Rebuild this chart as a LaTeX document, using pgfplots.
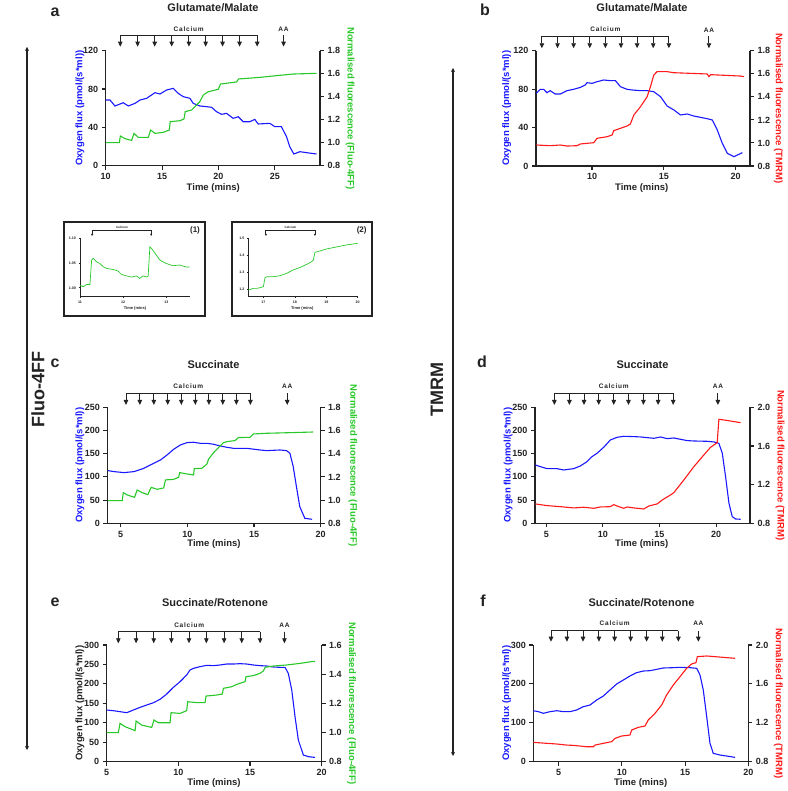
\documentclass[border=0pt]{standalone}
\usepackage{fontspec}
\setmainfont{Liberation Sans}
\newfontfamily\lsfont[LetterSpace=12]{Liberation Sans}
\usepackage{pgfplots}
\pgfplotsset{compat=1.18}
\usetikzlibrary{arrows.meta}
\definecolor{oxblue}{RGB}{25,25,255}
\definecolor{flgreen}{RGB}{40,200,40}
\definecolor{tmred}{RGB}{255,25,25}
\definecolor{axgray}{RGB}{35,35,35}

\tikzset{
  annot/.style={line width=0.9pt, axgray},
  arr/.style={-{Triangle[length=5pt,width=4.5pt]}},
  sarr/.style={-{Triangle[length=2.2pt,width=2pt]}},
  calfont/.style={font=\lsfont\bfseries\fontsize{6.5}{7}\selectfont, axgray, inner sep=0pt},
  icalfont/.style={font=\bfseries\fontsize{3}{3.5}\selectfont, axgray, inner sep=0pt},
  ttl/.style={font=\bfseries\fontsize{11}{13}\selectfont, axgray},
  lbl/.style={font=\bfseries\fontsize{9.5}{11}\selectfont, axgray},
  let/.style={font=\bfseries\fontsize{16}{18}\selectfont, anchor=base, axgray},
}
\pgfplotsset{
  panel/.style={scale only axis, anchor=south west, clip=false,
    axis line style={line width=1.3pt, axgray},
    tick style={line width=1.1pt, axgray},
    tick align=outside, major tick length=4pt,
    tick label style={font=\bfseries\fontsize{9}{10}\selectfont, axgray},
    /pgf/number format/assume math mode=true,
    enlargelimits=false},
  leftax/.style={panel, axis x line*=bottom, axis y line*=left,
    y tick label style={/pgf/number format/fixed}},
  rightax/.style={panel, axis x line=none, axis y line*=right,
    y tick label style={/pgf/number format/.cd, fixed, fixed zerofill, precision=1}},
  insetax/.style={scale only axis, anchor=south west, clip=false,
    axis x line*=bottom, axis y line*=left,
    axis line style={line width=0.7pt, axgray},
    tick style={line width=0.6pt, axgray},
    tick align=outside, major tick length=1.5pt,
    tick label style={font=\bfseries\fontsize{3.6}{4}\selectfont, axgray},
    xticklabel style={yshift=1pt},
    yticklabel style={xshift=1pt},
    /pgf/number format/assume math mode=true,
    enlargelimits=false},
}
% #1 arrow style, #2 list, #3 first, #4 last, #5 label x, #6 bracket rel y, #7 tip rel y, #8 label rel y, #9 font style
\newcommand{\calcium}[9]{%
  \draw[annot] ({axis cs:#3,0}|-{rel axis cs:0,#6}) -- ({axis cs:#4,0}|-{rel axis cs:0,#6});
  \pgfplotsinvokeforeach{#2}{\draw[annot,#1] ({axis cs:##1,0}|-{rel axis cs:0,#6}) -- ({axis cs:##1,0}|-{rel axis cs:0,#7});}
  \node[#9] at ({axis cs:#5,0}|-{rel axis cs:0,#8}) {Calcium};
}
\newcommand{\aamark}[4]{%
  \draw[annot,arr] ({axis cs:#1,0}|-{rel axis cs:0,#2}) -- ({axis cs:#1,0}|-{rel axis cs:0,#3});
  \node[calfont] at ({axis cs:#1,0}|-{rel axis cs:0,#4}) {AA};
}

\begin{document}
\begin{tikzpicture}
\useasboundingbox (0,0) rectangle (787pt,791pt);

% ================= Panel a =================
\begin{axis}[leftax, at={(105.7pt,625.3pt)}, width=214.3pt, height=115pt,
  xmin=10, xmax=29, ymin=0, ymax=120, xtick={10,15,20,25}, ytick={0,40,80,120}]
\addplot[oxblue, line width=1.1pt] coordinates {
(10.0,68.5)(10.38,68.5)(10.82,62.3)(11.56,65.7)(12.0,62.3)(12.59,65.0)(13.04,68.5)(13.63,70.3)(14.37,76.2)(14.81,74.8)(15.40,79.0)(15.99,80.7)(16.43,75.5)(16.88,72.0)(17.47,70.3)(17.76,65.0)(18.35,62.3)(18.94,61.6)(19.39,60.9)(19.83,56.3)(20.27,53.6)(20.71,54.6)(21.30,49.4)(21.75,51.1)(22.19,45.9)(22.78,45.9)(23.22,48.3)(23.52,43.5)(24.55,44.2)(24.99,40.7)(25.58,40.7)(26.03,30.3)(26.32,19.8)(26.68,12.2)(27.21,14.6)(27.80,13.6)(28.69,12.2)};
\calcium{arr}{11.29,12.83,14.34,15.85,17.38,18.86,20.36,21.87,23.43}{11.29}{23.43}{17.36}{1.1365}{1.035}{1.186}{calfont}
\aamark{25.77}{1.1365}{1.035}{1.186}
\end{axis}
\begin{axis}[rightax, at={(105.7pt,625.3pt)}, width=214.3pt, height=115pt,
  xmin=10, xmax=29, ymin=0.8, ymax=1.8, ytick={0.8,1,1.2,1.4,1.6,1.8}]
\addplot[flgreen, line width=1.1pt] coordinates {
(10,1.0)(11.21,1.0)(11.30,1.058)(11.71,1.035)(12.30,1.020)(12.51,1.081)(12.89,1.046)(13.78,1.046)(13.98,1.110)(14.37,1.081)(15.10,1.090)(15.64,1.110)(15.72,1.183)(16.58,1.191)(16.94,1.206)(17.05,1.270)(17.61,1.284)(18.35,1.357)(18.65,1.414)(19.09,1.443)(19.98,1.464)(20.18,1.510)(21.60,1.528)(21.78,1.554)(23.67,1.568)(25.14,1.583)(26.62,1.597)(28.69,1.603)};
\end{axis}

% ================= Panel b =================
\begin{axis}[leftax, at={(536pt,625pt)}, width=214pt, height=115.3pt,
  xmin=6.1, xmax=21, ymin=0, ymax=120, xtick={10,15,20}, ytick={0,40,80,120}]
\addplot[oxblue, line width=1.1pt] coordinates {
(6.12,75.6)(6.40,79.8)(6.63,79.8)(6.86,76.3)(7.09,78.4)(7.44,74.9)(7.79,74.9)(8.26,78.4)(8.72,79.8)(9.19,81.8)(9.53,84.3)(9.65,86.7)(10.0,86.0)(10.35,87.7)(10.81,89.5)(11.28,88.8)(11.63,88.8)(11.98,82.5)(12.44,79.8)(12.79,79.1)(13.37,78.4)(13.84,78.4)(14.30,77.3)(14.77,72.1)(15.23,62.4)(15.70,58.3)(16.16,53.1)(16.63,54.1)(17.09,52.0)(17.56,50.6)(18.02,49.2)(18.37,47.9)(18.72,37.5)(19.07,23.6)(19.42,13.2)(19.88,9.7)(20.12,11.4)(20.47,13.9)};
\calcium{arr}{6.51,7.60,8.72,9.84,10.93,12.02,13.14,14.26,15.35}{6.51}{15.35}{10.93}{1.1275}{1.021}{1.186}{calfont}
\aamark{18.14}{1.1275}{1.021}{1.173}
\end{axis}
\begin{axis}[rightax, at={(536pt,625pt)}, width=214pt, height=115.3pt,
  xmin=6.1, xmax=21, ymin=0.8, ymax=1.8, ytick={0.8,1,1.2,1.4,1.6,1.8}]
\addplot[tmred, line width=1.1pt] coordinates {
(6.12,0.982)(7.09,0.976)(7.79,0.982)(8.26,0.973)(8.95,0.976)(9.19,0.991)(10.12,1.002)(10.35,1.040)(11.05,1.054)(11.40,1.069)(11.51,1.106)(11.98,1.127)(12.44,1.147)(12.67,1.164)(12.91,1.242)(13.37,1.314)(13.84,1.401)(14.07,1.488)(14.30,1.589)(14.53,1.618)(15.23,1.618)(15.70,1.609)(18.02,1.598)(18.14,1.575)(18.26,1.592)(20.35,1.580)(20.58,1.575)};
\end{axis}

% ================= Inset 1 =================
\begin{axis}[insetax, at={(80pt,494.3pt)}, width=110pt, height=58.4pt,
  xmin=11, xmax=13.55, ymin=0.982, ymax=1.10, xtick={11,12,13}, ytick={1,1.05,1.1},
  y tick label style={/pgf/number format/.cd, fixed, fixed zerofill, precision=2}]
\addplot[flgreen, line width=0.7pt] coordinates {
(11.0,1.0054)(11.077,1.002)(11.154,1.0068)(11.23,1.0068)(11.27,1.056)(11.31,1.0595)(11.38,1.0527)(11.46,1.049)(11.54,1.0426)(11.62,1.039)(11.77,1.037)(11.88,1.034)(11.96,1.027)(12.08,1.024)(12.19,1.0216)(12.31,1.024)(12.38,1.019)(12.46,1.024)(12.54,1.0216)(12.58,1.024)(12.62,1.083)(12.69,1.076)(12.77,1.066)(12.85,1.056)(13.0,1.049)(13.15,1.0446)(13.31,1.046)(13.46,1.042)(13.54,1.042)};
\calcium{sarr}{11.28,12.65}{11.28}{12.65}{11.97}{1.142}{1.039}{1.18}{icalfont}
\end{axis}

% ================= Inset 2 =================
\begin{axis}[insetax, at={(248.3pt,494.3pt)}, width=109.4pt, height=58.4pt,
  xmin=16.52, xmax=20, ymin=1.155, ymax=1.5, xtick={17,18,19,20}, ytick={1.2,1.3,1.4,1.5},
  y tick label style={/pgf/number format/.cd, fixed, fixed zerofill, precision=1}]
\addplot[flgreen, line width=0.7pt] coordinates {
(16.52,1.194)(16.68,1.204)(16.79,1.204)(16.89,1.208)(17.0,1.214)(17.05,1.267)(17.11,1.273)(17.32,1.273)(17.53,1.279)(17.74,1.293)(17.95,1.313)(18.17,1.328)(18.38,1.346)(18.54,1.362)(18.59,1.372)(18.64,1.417)(18.80,1.425)(19.01,1.437)(19.33,1.449)(19.65,1.461)(20.0,1.470)};
\calcium{sarr}{17.08,18.64}{17.08}{18.64}{17.86}{1.142}{1.039}{1.18}{icalfont}
\end{axis}

% ================= Panel c =================
\begin{axis}[leftax, at={(107.3pt,267.7pt)}, width=213.4pt, height=116pt,
  xmin=4, xmax=20, ymin=0, ymax=250, xtick={5,10,15,20}, ytick={0,50,100,150,200,250}]
\addplot[oxblue, line width=1.1pt] coordinates {
(4.05,113.5)(4.50,111.4)(5.25,109.2)(6.0,111.4)(6.74,118.5)(7.24,125.7)(7.99,136.5)(8.48,147.3)(8.98,159.5)(9.48,168.8)(9.98,173.9)(10.47,174.6)(10.97,172.4)(11.47,172.4)(11.97,170.3)(12.46,166.7)(12.96,163.8)(13.46,161.6)(14.45,161.6)(15.45,158.0)(15.95,156.6)(16.94,158.0)(17.44,156.6)(17.69,150.9)(17.94,122.1)(18.18,79.0)(18.43,35.9)(18.81,10.8)(19.35,8.6)};
\calcium{arr}{5.40,6.44,7.49,8.53,9.55,10.60,11.62,12.66,13.68,14.73}{5.40}{14.73}{10.07}{1.1207}{1.020}{1.178}{calfont}
\aamark{17.49}{1.1207}{1.020}{1.178}
\end{axis}
\begin{axis}[rightax, at={(107.3pt,267.7pt)}, width=213.4pt, height=116pt,
  xmin=4, xmax=20, ymin=0.8, ymax=1.8, ytick={0.8,1,1.2,1.4,1.6,1.8}]
\addplot[flgreen, line width=1.1pt] coordinates {
(4.05,0.995)(5.12,0.995)(5.20,1.064)(5.50,1.044)(6.04,1.024)(6.24,1.087)(6.62,1.064)(7.04,1.047)(7.29,1.110)(7.74,1.093)(8.23,1.105)(8.36,1.174)(8.98,1.179)(9.35,1.197)(9.43,1.237)(9.98,1.225)(10.47,1.217)(10.52,1.271)(11.09,1.274)(11.47,1.311)(11.59,1.352)(11.97,1.409)(12.46,1.467)(12.71,1.495)(12.96,1.504)(13.58,1.513)(13.83,1.539)(14.70,1.541)(14.95,1.570)(15.95,1.576)(17.94,1.582)(19.43,1.587)};
\end{axis}

% ================= Panel d =================
\begin{axis}[leftax, at={(535pt,267.7pt)}, width=215pt, height=116pt,
  xmin=4, xmax=23, ymin=0, ymax=250, xtick={5,10,15,20}, ytick={0,50,100,150,200,250}]
\addplot[oxblue, line width=1.1pt] coordinates {
(4.03,125.7)(4.47,122.1)(5.06,117.8)(5.94,117.8)(6.53,114.9)(7.42,117.8)(8.01,123.6)(8.60,132.9)(9.04,143.7)(9.48,150.9)(10.07,163.8)(10.66,179.6)(11.25,185.3)(11.84,187.5)(12.73,186.8)(13.32,186.1)(13.91,184.6)(14.50,183.2)(15.09,186.0)(15.68,182.5)(16.27,183.9)(16.86,181.0)(17.45,178.2)(18.04,177.4)(19.22,176.7)(19.81,175.3)(20.25,172.4)(20.55,150.9)(20.84,100.6)(21.14,43.1)(21.43,14.4)(21.73,9.3)(22.17,8.6)};
\calcium{arr}{5.71,7.04,8.33,9.63,10.96,12.26,13.58,14.88,16.21}{5.71}{16.21}{10.96}{1.1207}{1.020}{1.178}{calfont}
\aamark{20.16}{1.1207}{1.020}{1.178}
\end{axis}
\begin{axis}[rightax, at={(535pt,267.7pt)}, width=215pt, height=116pt,
  xmin=4, xmax=23, ymin=0.8, ymax=2.0, ytick={0.8,1.2,1.6,2.0}]
\addplot[tmred, line width=1.1pt] coordinates {
(4.03,1.0)(5.06,0.983)(6.24,0.972)(7.42,0.959)(8.30,0.966)(9.19,0.955)(9.78,0.969)(10.66,0.972)(10.96,0.993)(11.25,0.979)(11.84,0.955)(12.14,0.969)(12.73,0.959)(13.61,0.948)(14.06,0.979)(14.79,1.0)(15.24,1.041)(15.97,1.093)(16.27,1.117)(17.15,1.248)(18.04,1.386)(18.92,1.507)(19.51,1.586)(20.10,1.634)(20.25,1.876)(20.69,1.869)(22.17,1.841)};
\end{axis}

% ================= Panel e =================
\begin{axis}[leftax, at={(106.7pt,29.3pt)}, width=215pt, height=116.7pt,
  xmin=5, xmax=20, ymin=0, ymax=300, xtick={5,10,15,20}, ytick={0,50,100,150,200,250,300}]
\addplot[oxblue, line width=1.1pt] coordinates {
(5.0,132.9)(5.47,131.1)(5.93,128.6)(6.40,126.0)(6.86,132.9)(7.33,139.7)(7.79,145.7)(8.26,151.7)(8.72,160.3)(9.19,174.0)(9.65,191.1)(10.12,205.7)(10.58,222.9)(10.81,235.7)(11.05,240.0)(11.51,244.3)(11.98,247.7)(12.44,246.9)(12.91,248.6)(13.37,251.1)(13.84,251.1)(14.30,252.0)(14.77,251.1)(15.23,248.6)(15.70,246.9)(16.16,246.0)(16.63,243.4)(17.09,242.6)(17.44,242.6)(17.67,227.1)(17.91,184.3)(18.14,115.7)(18.37,55.7)(18.72,17.1)(19.07,12.9)(19.53,11.1)};
\calcium{arr}{5.81,7.05,8.28,9.51,10.74,11.95,13.19,14.42,15.70}{5.81}{15.70}{10.76}{1.114}{1.0146}{1.171}{calfont}
\aamark{17.40}{1.114}{1.0146}{1.171}
\end{axis}
\begin{axis}[rightax, at={(106.7pt,29.3pt)}, width=215pt, height=116.7pt,
  xmin=5, xmax=20, ymin=0.8, ymax=1.6, ytick={0.8,1,1.2,1.4,1.6}]
\addplot[flgreen, line width=1.1pt] coordinates {
(5.0,0.999)(5.81,0.999)(5.93,1.063)(6.28,1.040)(6.98,1.013)(7.05,1.079)(7.44,1.051)(8.14,1.035)(8.30,1.086)(8.60,1.067)(9.42,1.067)(9.49,1.136)(10.12,1.131)(10.58,1.150)(10.65,1.211)(11.28,1.205)(11.86,1.205)(11.93,1.250)(12.67,1.257)(13.07,1.264)(13.14,1.303)(13.72,1.314)(14.07,1.330)(14.65,1.349)(14.72,1.383)(15.23,1.390)(15.70,1.406)(15.93,1.422)(16.05,1.447)(16.63,1.456)(17.56,1.463)(18.49,1.474)(19.42,1.488)(19.53,1.486)};
\end{axis}

% ================= Panel f =================
\begin{axis}[leftax, at={(533.3pt,29.3pt)}, width=215pt, height=116.7pt,
  xmin=3, xmax=20, ymin=0, ymax=300, xtick={5,10,15,20}, ytick={0,100,200,300}]
\addplot[oxblue, line width=1.1pt] coordinates {
(3.0,131.1)(3.40,128.6)(3.79,124.3)(4.32,128.6)(4.85,131.1)(5.37,128.6)(5.90,128.6)(6.43,132.9)(6.95,141.4)(7.48,145.7)(8.01,158.6)(8.54,168.9)(9.06,184.3)(9.59,199.7)(10.12,210.0)(10.64,220.3)(11.17,228.9)(11.70,233.1)(12.22,234.0)(12.75,237.4)(13.28,240.9)(14.07,241.7)(14.60,242.6)(15.39,241.7)(15.92,240.0)(16.18,222.9)(16.44,184.3)(16.71,115.7)(16.97,47.1)(17.23,21.4)(17.76,17.1)(18.29,14.6)(18.95,11.1)};
\calcium{arr}{4.40,5.66,6.93,8.19,9.43,10.70,11.96,13.20,14.47}{4.40}{14.47}{9.43}{1.1225}{1.028}{1.186}{calfont}
\aamark{16.05}{1.1225}{1.028}{1.186}
\end{axis}
\begin{axis}[rightax, at={(533.3pt,29.3pt)}, width=215pt, height=116.7pt,
  xmin=3, xmax=20, ymin=0.8, ymax=2.0, ytick={0.8,1.2,1.6,2.0}]
\addplot[tmred, line width=1.1pt] coordinates {
(3.0,0.999)(4.05,0.989)(4.85,0.982)(5.64,0.971)(6.16,0.968)(6.69,0.961)(7.22,0.954)(7.74,0.954)(7.88,0.971)(8.54,0.989)(9.19,1.006)(9.46,1.040)(9.98,1.064)(10.64,1.074)(10.78,1.126)(11.30,1.153)(11.83,1.167)(12.09,1.229)(12.62,1.297)(13.15,1.383)(13.54,1.486)(14.07,1.589)(14.60,1.674)(15.12,1.760)(15.52,1.805)(15.86,1.818)(15.97,1.880)(16.71,1.887)(18.02,1.873)(18.95,1.863)};
\end{axis}

% ================= Annotations (pixel coordinates, y downward) =================
\begin{scope}[x=1pt,y=-1pt,shift={(0pt,791pt)}]
% titles
\node[ttl] at (213,7.5) {Glutamate/Malate};
\node[ttl] at (642,7.5) {Glutamate/Malate};
\node[ttl] at (213.5,364.5) {Succinate};
\node[ttl] at (642.5,364.5) {Succinate};
\node[ttl] at (215,603) {Succinate/Rotenone};
\node[ttl] at (641.5,603) {Succinate/Rotenone};
% panel letters
\node[let] at (55,16.5) {a};
\node[let] at (485,16) {b};
\node[let] at (55,368) {c};
\node[let] at (482,368) {d};
\node[let] at (55,606.5) {e};
\node[let] at (483,606.5) {f};
% x labels
\node[lbl] at (213.3,188) {Time (mins)};
\node[lbl] at (641.7,188.5) {Time (mins)};
\node[lbl] at (214,544.5) {Time (mins)};
\node[lbl] at (641.7,544.5) {Time (mins)};
\node[lbl] at (214,783) {Time (mins)};
\node[lbl] at (640.7,783) {Time (mins)};
% left y labels
\node[lbl,oxblue,rotate=90] at (80,108.2) {Oxygen flux (pmol/(s*ml))};
\node[lbl,oxblue,rotate=90] at (506.7,108.3) {Oxygen flux (pmol/(s*ml))};
\node[lbl,oxblue,rotate=90] at (80,465.3) {Oxygen flux (pmol/(s*ml))};
\node[lbl,oxblue,rotate=90] at (508.3,465.3) {Oxygen flux (pmol/(s*ml))};
\node[lbl,rotate=90] at (80,703.3) {Oxygen flux (pmol/(s*ml))};
\node[lbl,oxblue,rotate=90] at (506.7,703.3) {Oxygen flux (pmol/(s*ml))};
% right y labels
\node[lbl,flgreen,rotate=-90] at (350,108.2) {Normalised fluorescence (Fluo-4FF)};
\node[lbl,tmred,rotate=-90] at (778.3,108.3) {Normalised fluorescence (TMRM)};
\node[lbl,flgreen,rotate=-90] at (352.7,465.3) {Normalised fluorescence (Fluo-4FF)};
\node[lbl,tmred,rotate=-90] at (780,465.3) {Normalised fluorescence (TMRM)};
\node[lbl,flgreen,rotate=-90] at (351.7,703.3) {Normalised fluorescence (Fluo-4FF)};
\node[lbl,tmred,rotate=-90] at (778.3,703.3) {Normalised fluorescence (TMRM)};
% inset boxes
\draw[line width=1.8pt, axgray] (64.3,222) rectangle (205,316);
\draw[line width=1.8pt, axgray] (232.3,222) rectangle (372.3,316);
\node[font=\bfseries\fontsize{8}{9}\selectfont, axgray] at (195,230) {(1)};
\node[font=\bfseries\fontsize{8}{9}\selectfont, axgray] at (361.7,230) {(2)};
\node[font=\bfseries\fontsize{4}{5}\selectfont, axgray] at (135,308) {Time (mins)};
\node[font=\bfseries\fontsize{4}{5}\selectfont, axgray] at (302.3,308) {Time (mins)};
% side labels
\draw[line width=1.2pt, axgray, {Stealth[length=4pt,width=4pt]}-{Stealth[length=4pt,width=4pt]}] (27,47) -- (27,750);
\node[font=\bfseries\fontsize{18}{20}\selectfont, axgray, rotate=90] at (38,390) {Fluo-4FF};
\draw[line width=1.2pt, axgray, {Stealth[length=4pt,width=4pt]}-{Stealth[length=4pt,width=4pt]}] (453,68) -- (453,756);
\node[font=\bfseries\fontsize{18}{20}\selectfont, axgray, rotate=90] at (437,390) {TMRM};
\end{scope}
\end{tikzpicture}
\end{document}
